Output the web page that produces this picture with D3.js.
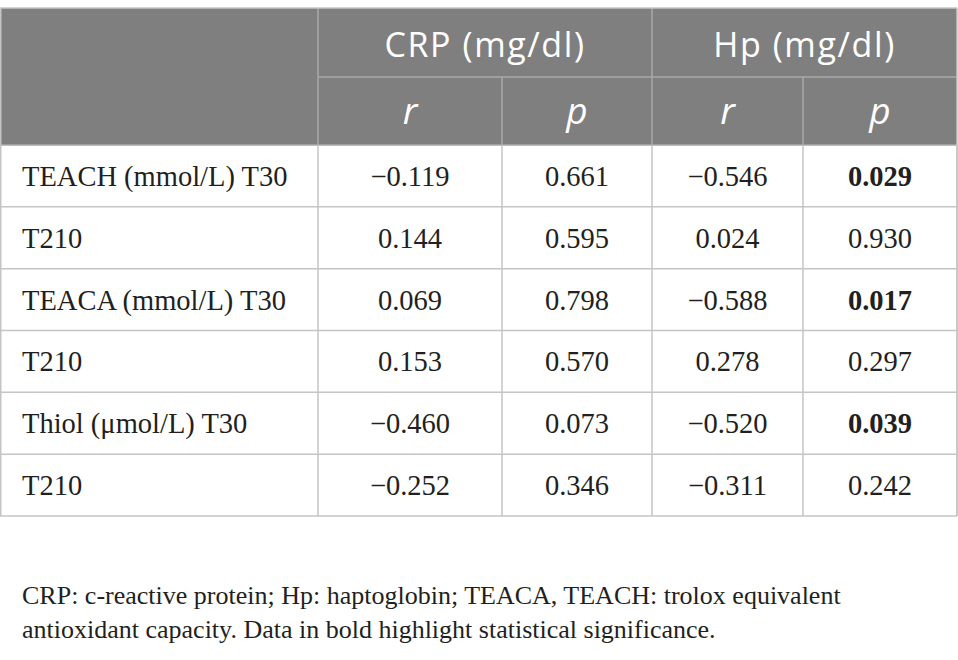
<!DOCTYPE html>
<html>
<head>
<meta charset="utf-8">
<script src="https://cdn.jsdelivr.net/npm/d3@7"></script>
<style>
  html, body { margin: 0; padding: 0; background: #ffffff; }
  svg { display: block; }
</style>
</head>
<body>
<svg id="chart" width="958" height="660"></svg>
<script>
// ---- data ----
const groups = ["CRP (mg/dl)", "Hp (mg/dl)"];
const subHeaders = ["r", "p", "r", "p"];
const rowLabels = ["TEACH (mmol/L) T30", "T210", "TEACA (mmol/L) T30", "T210", "Thiol (\u03bcmol/L) T30", "T210"];
const crpR = [-0.119, 0.144, 0.069, 0.153, -0.460, -0.252];
const crpP = [0.661, 0.595, 0.798, 0.570, 0.073, 0.346];
const hpR = [-0.546, 0.024, -0.588, 0.278, -0.520, -0.311];
const hpP = [0.029, 0.930, 0.017, 0.297, 0.039, 0.242];
const hpPBold = [true, false, true, false, true, false];
const footnote = [
  "CRP: c-reactive protein; Hp: haptoglobin; TEACA, TEACH: trolox equivalent",
  "antioxidant capacity. Data in bold highlight statistical significance."
];

// ---- layout ----
const svg = d3.select("#chart");
const colEdges = [0, 318, 502, 652, 803, 957];
const tableTop = 8, headRow1 = 77, headBottom = 145, tableBottom = 516;
const fmt = d3.format(".3f");

const yRow = d3.scaleBand().domain(d3.range(rowLabels.length)).range([headBottom, tableBottom]);
const xCol = d3.scaleOrdinal().domain(d3.range(5)).range(colEdges.slice(0, 5));
const colW = i => colEdges[i + 1] - colEdges[i];

const serif = "'Liberation Serif', 'Times New Roman', serif";
const sans = "'Open Sans', 'Noto Sans', sans-serif";
const lineCol = "#c4c4c4";
const headLine = "#a9a9a9";
const ink = "#231f20";

svg.append("rect").attr("width", 958).attr("height", 660).attr("fill", "#fff");

// header background
svg.append("rect").attr("x", colEdges[0]).attr("y", tableTop)
  .attr("width", colEdges[5] - colEdges[0]).attr("height", headBottom - tableTop)
  .attr("fill", "#7f7f7f");

// header group labels
const groupSpans = [[1, 3], [3, 5]];
svg.selectAll("text.group").data(groups).join("text")
  .attr("class", "group")
  .attr("x", (d, i) => (colEdges[groupSpans[i][0]] + colEdges[groupSpans[i][1]]) / 2)
  .attr("y", 57)
  .attr("text-anchor", "middle")
  .attr("fill", "#fff")
  .style("font-family", sans).style("font-size", "34px").style("font-weight", 400)
  .style("letter-spacing", "1.6px")
  .text(d => d);

svg.selectAll("text.sub").data(subHeaders).join("text")
  .attr("class", "sub")
  .attr("x", (d, i) => xCol(i + 1) + colW(i + 1) / 2)
  .attr("y", 124)
  .attr("text-anchor", "middle")
  .attr("fill", "#fff")
  .style("font-family", sans).style("font-size", "37px").style("font-style", "italic")
  .text(d => d);

// header internal lines
const hl = svg.append("g").attr("stroke", headLine).attr("stroke-width", 1.5);
hl.append("line").attr("x1", colEdges[1]).attr("x2", colEdges[5]).attr("y1", headRow1).attr("y2", headRow1);
hl.append("line").attr("x1", colEdges[1]).attr("x2", colEdges[1]).attr("y1", tableTop).attr("y2", headBottom);
hl.append("line").attr("x1", colEdges[3]).attr("x2", colEdges[3]).attr("y1", tableTop).attr("y2", headBottom);
hl.append("line").attr("x1", colEdges[2]).attr("x2", colEdges[2]).attr("y1", headRow1).attr("y2", headBottom);
hl.append("line").attr("x1", colEdges[4]).attr("x2", colEdges[4]).attr("y1", headRow1).attr("y2", headBottom);
hl.append("line").attr("x1", colEdges[0]).attr("x2", colEdges[5]).attr("y1", headBottom).attr("y2", headBottom);

// body grid
const bl = svg.append("g").attr("stroke", lineCol).attr("stroke-width", 1.5).attr("fill", "none");
yRow.domain().forEach(i => {
  bl.append("line").attr("x1", colEdges[0]).attr("x2", colEdges[5])
    .attr("y1", yRow(i) + yRow.bandwidth()).attr("y2", yRow(i) + yRow.bandwidth());
});
colEdges.forEach(x => {
  bl.append("line").attr("x1", x).attr("x2", x).attr("y1", headBottom).attr("y2", tableBottom);
});
// outer border
const ol = svg.append("g").attr("stroke", lineCol).attr("stroke-width", 1.5);
ol.append("line").attr("x1", colEdges[0]).attr("x2", colEdges[5]).attr("y1", tableTop).attr("y2", tableTop);
ol.append("line").attr("x1", colEdges[0] + 0.75).attr("x2", colEdges[0] + 0.75).attr("y1", tableTop).attr("y2", tableBottom);
ol.append("line").attr("x1", colEdges[5]).attr("x2", colEdges[5]).attr("y1", tableTop).attr("y2", tableBottom);

// body text
const cols = [crpR, crpP, hpR, hpP];
const rows = svg.selectAll("g.row").data(rowLabels).join("g").attr("class", "row")
  .attr("transform", (d, i) => `translate(0,${yRow(i) + yRow.bandwidth() / 2 + 10})`);

rows.append("text").attr("x", 22)
  .style("font-family", serif).style("font-size", "28.5px").attr("fill", ink)
  .text(d => d);

cols.forEach((vals, c) => {
  rows.append("text")
    .attr("x", xCol(c + 1) + colW(c + 1) / 2)
    .attr("text-anchor", "middle")
    .style("font-family", serif).style("font-size", "28.5px").attr("fill", ink)
    .style("font-weight", (d, i) => (c === 3 && hpPBold[i]) ? 700 : 400)
    .text((d, i) => fmt(vals[i]));
});

// footnote
svg.selectAll("text.foot").data(footnote).join("text").attr("class", "foot")
  .attr("x", 22).attr("y", (d, i) => 604 + i * 34)
  .style("font-family", serif).style("font-size", "26px").attr("fill", ink)
  .text(d => d);
</script>
</body>
</html>
